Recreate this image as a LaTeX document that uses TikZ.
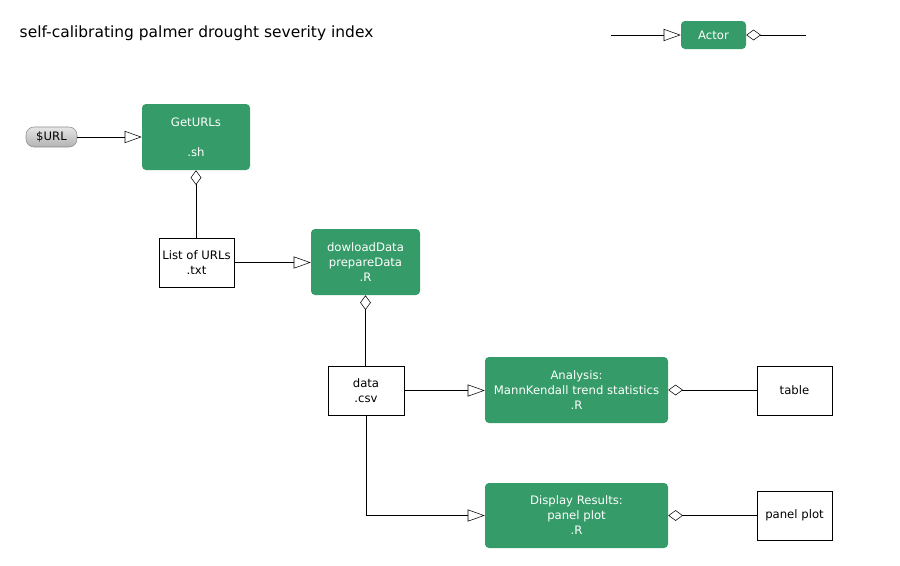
\documentclass[tikz,border=0pt]{standalone}
\usepackage{fontspec}
\setmainfont{DejaVu Sans}
\usepackage{tikz}
\usetikzlibrary{%
  arrows.meta%
}
\definecolor{actorgreen}{RGB}{53,155,104}
\tikzset{
  actor/.style={fill=actorgreen, text=white, rounded corners=3pt,
    align=center, font=\fontsize{8.75}{11.25}\selectfont, inner sep=0pt},
  datafile/.style={draw=black, fill=white, align=center,
    font=\fontsize{8.75}{11.25}\selectfont, inner sep=0pt,
    minimum width=56.25pt, minimum height=36.75pt},
  param/.style={draw=black!45, top color=black!10, bottom color=black!30,
    rounded corners=6pt, font=\fontsize{8.75}{10}\selectfont, inner sep=0pt,
    minimum width=38.25pt, minimum height=15pt},
  feeds/.style={-{Triangle[open, length=12.75pt, width=9pt]}},
  owns/.style={{Diamond[open, length=11pt, width=8pt]}-}
}

\begin{document}
\begin{tikzpicture}[x=0.75pt, y=-0.75pt]
  \useasboundingbox (0,0) rectangle (900,565);

  %% title
  \node[anchor=west, font=\fontsize{11.6}{13}\selectfont] (title) at (15,33)
    {self-calibrating palmer drought severity index};

  %% legend
  \node[actor, minimum width=48.75pt, minimum height=21pt] (legend) at (713.5,35) {Actor};
  \coordinate (legin) at (611,35);
  \coordinate (legout) at (806,35);
  \draw[feeds] (legin) -- (legend);
  \draw[owns] (legend) -- (legout);

  %% get the urls
  \node[param] (url) at (51.5,137) {\$URL};
  \node[actor, minimum width=81pt, minimum height=49.5pt] (geturls) at (196,137)
    {GetURLs\\ \\.sh};
  \node[datafile] (urllist) at (196.5,262.5) {List of URLs\\.txt};
  \draw[feeds] (url) -- (geturls);
  \draw[owns] (geturls) -- (geturls.south |- urllist.north);

  %% download and prepare
  \node[actor, minimum width=81.75pt, minimum height=49.5pt] (prepare) at (365.5,262)
    {dowloadData\\prepareData\\.R};
  \node[datafile, minimum width=57pt] (datacsv) at (366,390.5) {data\\.csv};
  \draw[feeds] (urllist) -- (urllist -| prepare.west);
  \draw[owns] (prepare) -- (prepare.south |- datacsv.north);

  %% analysis
  \node[actor, minimum width=137.25pt, minimum height=49.5pt] (analysis) at (576.5,390)
    {Analysis:\\MannKendall trend statistics\\.R};
  \node[datafile] (table) at (794.5,390.5) {table};
  \draw[feeds] (datacsv) -- (datacsv -| analysis.west);
  \draw[owns] (analysis) -- (analysis -| table.west);

  %% display
  \node[actor, minimum width=137.25pt, minimum height=48.75pt] (display) at (576.5,515.5)
    {Display Results:\\panel plot\\.R};
  \node[datafile] (panel) at (794.5,515.5) {panel plot};
  \draw[feeds] (datacsv.south) |- (display.west);
  \draw[owns] (display) -- (panel);

\end{tikzpicture}
\end{document}
